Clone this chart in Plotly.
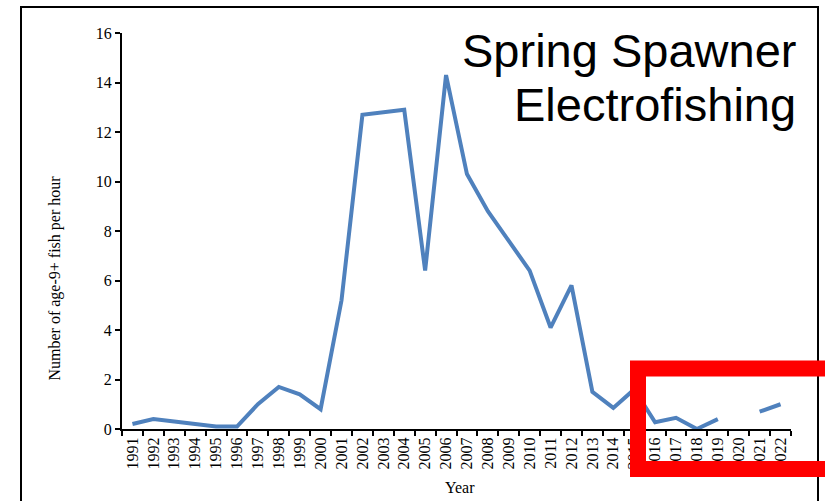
import plotly.graph_objects as go

years = [str(y) for y in range(1991, 2023)]
values = [0.2, 0.4, 0.3, 0.2, 0.1, 0.1, 1.0, 1.7, 1.4, 0.8,
          5.2, 12.7, 12.8, 12.9, 6.4, 14.3, 10.3, 8.8, 7.6, 6.4,
          4.1, 5.8, 1.5, 0.85, 1.6, 0.27, 0.45, 0.0, 0.4, None,
          0.7, 1.0]
y_ticks = [0, 2, 4, 6, 8, 10, 12, 14, 16]

W, H = 825, 501
L, R, T, B = 122, 791, 33, 429   # plot area in page pixels
pw, ph = R - L, B - T

def px(x):
    return (x - L) / pw

def py(y):
    return (B - y) / ph

fig = go.Figure()
fig.add_trace(go.Scatter(x=years, y=values, mode="lines",
                         line=dict(color="#4F81BD", width=4),
                         connectgaps=False, showlegend=False,
                         hoverinfo="skip"))

serif = "Liberation Serif, Times New Roman, serif"
sans = "Liberation Sans, Arial, sans-serif"

def bar(x0, x1, y0, y1):
    return dict(type="rect", xref="paper", yref="paper",
                x0=px(x0), x1=px(x1), y0=py(y1), y1=py(y0),
                fillcolor="black", line=dict(width=0), layer="above")

fig.update_layout(
    width=W, height=H,
    margin=dict(l=L, r=W - R, t=T, b=H - B),
    paper_bgcolor="white", plot_bgcolor="white",
    font=dict(family=serif, size=16, color="black"),
    xaxis=dict(type="category", range=[-0.5, len(years) - 0.5],
               showline=True, linecolor="black", linewidth=2,
               ticks="outside", ticklen=5, tickcolor="black", tickwidth=1.5,
               tickson="boundaries", tickangle=-90, showgrid=False,
               tickfont=dict(family=serif, size=16), zeroline=False,
               automargin=False),
    yaxis=dict(range=[0, 16], tickvals=y_ticks,
               showline=True, linecolor="black", linewidth=2,
               ticks="outside", ticklen=5, tickcolor="black", tickwidth=1.5,
               showgrid=False, zeroline=False,
               tickfont=dict(family=serif, size=16), automargin=False),
    shapes=[
        bar(20, 22, 6, 501),      # left frame edge
        bar(20, 819, 6, 8),       # top frame edge
        bar(817, 819, 6, 501),    # right frame edge
        dict(type="rect", xref="paper", yref="paper",
             x0=px(638), x1=px(840), y0=py(469), y1=py(368.5),
             line=dict(color="#FF0000", width=16), layer="above"),
    ],
    annotations=[
        dict(text="Number of age-9+ fish per hour", xref="paper", yref="paper",
             x=px(54), y=py(278.5), textangle=-90, showarrow=False,
             xanchor="center", yanchor="middle",
             font=dict(family=serif, size=16)),
        dict(text="Year", xref="paper", yref="paper",
             x=px(460), y=py(487), showarrow=False,
             xanchor="center", yanchor="middle",
             font=dict(family=serif, size=16)),
        dict(text="Spring Spawner", xref="paper", yref="paper",
             x=px(798), y=py(50), showarrow=False,
             xanchor="right", yanchor="middle",
             font=dict(family=sans, size=47)),
        dict(text="Electrofishing", xref="paper", yref="paper",
             x=px(798), y=py(105), showarrow=False,
             xanchor="right", yanchor="middle",
             font=dict(family=sans, size=47)),
    ],
)

fig.write_html("out.html", config={"displayModeBar": False},
               post_script="document.body.style.margin='0';"
                           "document.body.style.overflow='hidden';"
                           "document.documentElement.style.overflow='hidden';")
